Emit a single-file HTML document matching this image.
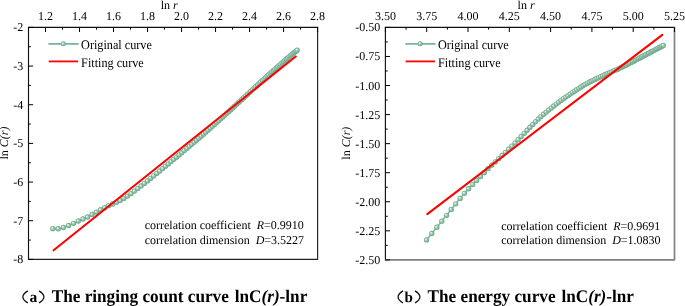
<!DOCTYPE html>
<html><head><meta charset="utf-8"><style>
html,body{margin:0;padding:0;background:#fff;}
body{width:685px;height:306px;overflow:hidden;position:relative;}
svg{position:absolute;left:0;top:0;will-change:transform;}
text{font-family:"Liberation Serif", serif;fill:#000;text-rendering:geometricPrecision;}
.tl{font-size:12px;}
.lg{font-size:12.2px;}
.ct{font-size:12px;}
.cap{font-size:17.2px;font-weight:bold;}
.capl{font-size:15.6px;font-weight:bold;}
</style></head><body>
<svg width="685" height="306" viewBox="0 0 685 306">
<defs><radialGradient id="gb" cx="0.5" cy="0.5" r="0.5" fx="0.33" fy="0.36"><stop offset="0" stop-color="#ffffff"/><stop offset="0.22" stop-color="#d2e8db"/><stop offset="0.55" stop-color="#8fc1a7"/><stop offset="1" stop-color="#6aa688"/></radialGradient></defs>
<line x1="27.95" y1="27.4" x2="318.20000000000005" y2="27.4" stroke="#111" stroke-width="1.15"/>
<line x1="28.5" y1="27.4" x2="28.5" y2="260.0" stroke="#111" stroke-width="1.15"/>
<line x1="317.6" y1="27.4" x2="317.6" y2="259.4" stroke="#222" stroke-width="1.15"/>
<line x1="28.5" y1="259.4" x2="318.1" y2="259.4" stroke="#222" stroke-width="1.15"/>
<line x1="45.51" y1="27.4" x2="45.51" y2="32.0" stroke="#000" stroke-width="1"/>
<line x1="79.52" y1="27.4" x2="79.52" y2="32.0" stroke="#000" stroke-width="1"/>
<line x1="113.53" y1="27.4" x2="113.53" y2="32.0" stroke="#000" stroke-width="1"/>
<line x1="147.54" y1="27.4" x2="147.54" y2="32.0" stroke="#000" stroke-width="1"/>
<line x1="181.55" y1="27.4" x2="181.55" y2="32.0" stroke="#000" stroke-width="1"/>
<line x1="215.56" y1="27.4" x2="215.56" y2="32.0" stroke="#000" stroke-width="1"/>
<line x1="249.58" y1="27.4" x2="249.58" y2="32.0" stroke="#000" stroke-width="1"/>
<line x1="283.59" y1="27.4" x2="283.59" y2="32.0" stroke="#000" stroke-width="1"/>
<line x1="317.60" y1="27.4" x2="317.60" y2="32.0" stroke="#000" stroke-width="1"/>
<line x1="28.50" y1="27.4" x2="28.50" y2="29.7" stroke="#000" stroke-width="1"/>
<line x1="62.51" y1="27.4" x2="62.51" y2="29.7" stroke="#000" stroke-width="1"/>
<line x1="96.52" y1="27.4" x2="96.52" y2="29.7" stroke="#000" stroke-width="1"/>
<line x1="130.54" y1="27.4" x2="130.54" y2="29.7" stroke="#000" stroke-width="1"/>
<line x1="164.55" y1="27.4" x2="164.55" y2="29.7" stroke="#000" stroke-width="1"/>
<line x1="198.56" y1="27.4" x2="198.56" y2="29.7" stroke="#000" stroke-width="1"/>
<line x1="232.57" y1="27.4" x2="232.57" y2="29.7" stroke="#000" stroke-width="1"/>
<line x1="266.58" y1="27.4" x2="266.58" y2="29.7" stroke="#000" stroke-width="1"/>
<line x1="300.59" y1="27.4" x2="300.59" y2="29.7" stroke="#000" stroke-width="1"/>
<text x="45.51" y="19.6" text-anchor="middle" class="tl">1.2</text>
<text x="79.52" y="19.6" text-anchor="middle" class="tl">1.4</text>
<text x="113.53" y="19.6" text-anchor="middle" class="tl">1.6</text>
<text x="147.54" y="19.6" text-anchor="middle" class="tl">1.8</text>
<text x="181.55" y="19.6" text-anchor="middle" class="tl">2.0</text>
<text x="215.56" y="19.6" text-anchor="middle" class="tl">2.2</text>
<text x="249.58" y="19.6" text-anchor="middle" class="tl">2.4</text>
<text x="283.59" y="19.6" text-anchor="middle" class="tl">2.6</text>
<text x="317.60" y="19.6" text-anchor="middle" class="tl">2.8</text>
<line x1="28.5" y1="27.40" x2="33.1" y2="27.40" stroke="#000" stroke-width="1"/>
<line x1="28.5" y1="66.07" x2="33.1" y2="66.07" stroke="#000" stroke-width="1"/>
<line x1="28.5" y1="104.73" x2="33.1" y2="104.73" stroke="#000" stroke-width="1"/>
<line x1="28.5" y1="143.40" x2="33.1" y2="143.40" stroke="#000" stroke-width="1"/>
<line x1="28.5" y1="182.07" x2="33.1" y2="182.07" stroke="#000" stroke-width="1"/>
<line x1="28.5" y1="220.73" x2="33.1" y2="220.73" stroke="#000" stroke-width="1"/>
<line x1="28.5" y1="259.40" x2="33.1" y2="259.40" stroke="#000" stroke-width="1"/>
<line x1="28.5" y1="46.73" x2="30.8" y2="46.73" stroke="#000" stroke-width="1"/>
<line x1="28.5" y1="85.40" x2="30.8" y2="85.40" stroke="#000" stroke-width="1"/>
<line x1="28.5" y1="124.07" x2="30.8" y2="124.07" stroke="#000" stroke-width="1"/>
<line x1="28.5" y1="162.73" x2="30.8" y2="162.73" stroke="#000" stroke-width="1"/>
<line x1="28.5" y1="201.40" x2="30.8" y2="201.40" stroke="#000" stroke-width="1"/>
<line x1="28.5" y1="240.07" x2="30.8" y2="240.07" stroke="#000" stroke-width="1"/>
<text x="23.30" y="31.40" text-anchor="end" class="tl">-2</text>
<text x="23.30" y="70.07" text-anchor="end" class="tl">-3</text>
<text x="23.30" y="108.73" text-anchor="end" class="tl">-4</text>
<text x="23.30" y="147.40" text-anchor="end" class="tl">-5</text>
<text x="23.30" y="186.07" text-anchor="end" class="tl">-6</text>
<text x="23.30" y="224.73" text-anchor="end" class="tl">-7</text>
<text x="23.30" y="263.40" text-anchor="end" class="tl">-8</text>
<path d="M52.82,228.67 L58.24,228.77 L63.50,227.50 L68.60,225.52 L73.55,223.29 L78.35,221.01 L83.03,218.98 L87.58,216.98 L92.02,214.51 L96.34,212.15 L100.55,209.76 L104.66,207.69 L108.68,205.64 L112.60,203.98 L116.44,202.35 L120.18,200.47 L123.85,198.38 L127.44,196.10 L130.96,193.64 L134.41,191.10 L137.78,188.55 L141.09,185.97 L144.34,183.41 L147.53,180.89 L150.66,178.39 L153.73,175.91 L156.75,173.44 L159.71,171.01 L162.63,168.60 L165.49,166.24 L168.31,163.92 L171.08,161.62 L173.81,159.36 L176.49,157.13 L179.13,154.92 L181.74,152.74 L184.30,150.59 L186.82,148.46 L189.31,146.35 L191.76,144.26 L194.18,142.20 L196.56,140.16 L198.91,138.14 L201.23,136.13 L203.52,134.14 L205.77,132.17 L208.00,130.22 L210.20,128.28 L212.37,126.37 L214.51,124.46 L216.63,122.57 L218.72,120.68 L220.78,118.80 L222.82,116.94 L224.84,115.09 L226.83,113.26 L228.80,111.45 L230.75,109.67 L232.67,107.91 L234.58,106.17 L236.46,104.45 L238.32,102.74 L240.16,101.05 L241.98,99.38 L243.79,97.72 L245.57,96.07 L247.33,94.44 L249.08,92.82 L250.81,91.21 L252.52,89.62 L254.22,88.05 L255.89,86.50 L257.55,84.97 L259.20,83.46 L260.83,81.97 L262.44,80.50 L264.04,79.04 L265.63,77.60 L267.20,76.17 L268.75,74.76 L270.29,73.36 L271.82,71.98 L273.33,70.62 L274.83,69.28 L276.32,67.95 L277.79,66.65 L279.26,65.36 L280.70,64.10 L282.14,62.85 L283.57,61.62 L284.98,60.40 L286.38,59.20 L287.77,58.01 L289.15,56.84 L290.52,55.68 L291.87,54.54 L293.22,53.42 L294.55,52.31 L295.88,51.22 L297.19,50.14" fill="none" stroke="#7fb59a" stroke-width="1.5"/>
<circle cx="52.82" cy="228.67" r="2.65" fill="url(#gb)"/>
<circle cx="58.24" cy="228.77" r="2.65" fill="url(#gb)"/>
<circle cx="63.50" cy="227.50" r="2.65" fill="url(#gb)"/>
<circle cx="68.60" cy="225.52" r="2.65" fill="url(#gb)"/>
<circle cx="73.55" cy="223.29" r="2.65" fill="url(#gb)"/>
<circle cx="78.35" cy="221.01" r="2.65" fill="url(#gb)"/>
<circle cx="83.03" cy="218.98" r="2.65" fill="url(#gb)"/>
<circle cx="87.58" cy="216.98" r="2.65" fill="url(#gb)"/>
<circle cx="92.02" cy="214.51" r="2.65" fill="url(#gb)"/>
<circle cx="96.34" cy="212.15" r="2.65" fill="url(#gb)"/>
<circle cx="100.55" cy="209.76" r="2.65" fill="url(#gb)"/>
<circle cx="104.66" cy="207.69" r="2.65" fill="url(#gb)"/>
<circle cx="108.68" cy="205.64" r="2.65" fill="url(#gb)"/>
<circle cx="112.60" cy="203.98" r="2.65" fill="url(#gb)"/>
<circle cx="116.44" cy="202.35" r="2.65" fill="url(#gb)"/>
<circle cx="120.18" cy="200.47" r="2.65" fill="url(#gb)"/>
<circle cx="123.85" cy="198.38" r="2.65" fill="url(#gb)"/>
<circle cx="127.44" cy="196.10" r="2.65" fill="url(#gb)"/>
<circle cx="130.96" cy="193.64" r="2.65" fill="url(#gb)"/>
<circle cx="134.41" cy="191.10" r="2.65" fill="url(#gb)"/>
<circle cx="137.78" cy="188.55" r="2.65" fill="url(#gb)"/>
<circle cx="141.09" cy="185.97" r="2.65" fill="url(#gb)"/>
<circle cx="144.34" cy="183.41" r="2.65" fill="url(#gb)"/>
<circle cx="147.53" cy="180.89" r="2.65" fill="url(#gb)"/>
<circle cx="150.66" cy="178.39" r="2.65" fill="url(#gb)"/>
<circle cx="153.73" cy="175.91" r="2.65" fill="url(#gb)"/>
<circle cx="156.75" cy="173.44" r="2.65" fill="url(#gb)"/>
<circle cx="159.71" cy="171.01" r="2.65" fill="url(#gb)"/>
<circle cx="162.63" cy="168.60" r="2.65" fill="url(#gb)"/>
<circle cx="165.49" cy="166.24" r="2.65" fill="url(#gb)"/>
<circle cx="168.31" cy="163.92" r="2.65" fill="url(#gb)"/>
<circle cx="171.08" cy="161.62" r="2.65" fill="url(#gb)"/>
<circle cx="173.81" cy="159.36" r="2.65" fill="url(#gb)"/>
<circle cx="176.49" cy="157.13" r="2.65" fill="url(#gb)"/>
<circle cx="179.13" cy="154.92" r="2.65" fill="url(#gb)"/>
<circle cx="181.74" cy="152.74" r="2.65" fill="url(#gb)"/>
<circle cx="184.30" cy="150.59" r="2.65" fill="url(#gb)"/>
<circle cx="186.82" cy="148.46" r="2.65" fill="url(#gb)"/>
<circle cx="189.31" cy="146.35" r="2.65" fill="url(#gb)"/>
<circle cx="191.76" cy="144.26" r="2.65" fill="url(#gb)"/>
<circle cx="194.18" cy="142.20" r="2.65" fill="url(#gb)"/>
<circle cx="196.56" cy="140.16" r="2.65" fill="url(#gb)"/>
<circle cx="198.91" cy="138.14" r="2.65" fill="url(#gb)"/>
<circle cx="201.23" cy="136.13" r="2.65" fill="url(#gb)"/>
<circle cx="203.52" cy="134.14" r="2.65" fill="url(#gb)"/>
<circle cx="205.77" cy="132.17" r="2.65" fill="url(#gb)"/>
<circle cx="208.00" cy="130.22" r="2.65" fill="url(#gb)"/>
<circle cx="210.20" cy="128.28" r="2.65" fill="url(#gb)"/>
<circle cx="212.37" cy="126.37" r="2.65" fill="url(#gb)"/>
<circle cx="214.51" cy="124.46" r="2.65" fill="url(#gb)"/>
<circle cx="216.63" cy="122.57" r="2.65" fill="url(#gb)"/>
<circle cx="218.72" cy="120.68" r="2.65" fill="url(#gb)"/>
<circle cx="220.78" cy="118.80" r="2.65" fill="url(#gb)"/>
<circle cx="222.82" cy="116.94" r="2.65" fill="url(#gb)"/>
<circle cx="224.84" cy="115.09" r="2.65" fill="url(#gb)"/>
<circle cx="226.83" cy="113.26" r="2.65" fill="url(#gb)"/>
<circle cx="228.80" cy="111.45" r="2.65" fill="url(#gb)"/>
<circle cx="230.75" cy="109.67" r="2.65" fill="url(#gb)"/>
<circle cx="232.67" cy="107.91" r="2.65" fill="url(#gb)"/>
<circle cx="234.58" cy="106.17" r="2.65" fill="url(#gb)"/>
<circle cx="236.46" cy="104.45" r="2.65" fill="url(#gb)"/>
<circle cx="238.32" cy="102.74" r="2.65" fill="url(#gb)"/>
<circle cx="240.16" cy="101.05" r="2.65" fill="url(#gb)"/>
<circle cx="241.98" cy="99.38" r="2.65" fill="url(#gb)"/>
<circle cx="243.79" cy="97.72" r="2.65" fill="url(#gb)"/>
<circle cx="245.57" cy="96.07" r="2.65" fill="url(#gb)"/>
<circle cx="247.33" cy="94.44" r="2.65" fill="url(#gb)"/>
<circle cx="249.08" cy="92.82" r="2.65" fill="url(#gb)"/>
<circle cx="250.81" cy="91.21" r="2.65" fill="url(#gb)"/>
<circle cx="252.52" cy="89.62" r="2.65" fill="url(#gb)"/>
<circle cx="254.22" cy="88.05" r="2.65" fill="url(#gb)"/>
<circle cx="255.89" cy="86.50" r="2.65" fill="url(#gb)"/>
<circle cx="257.55" cy="84.97" r="2.65" fill="url(#gb)"/>
<circle cx="259.20" cy="83.46" r="2.65" fill="url(#gb)"/>
<circle cx="260.83" cy="81.97" r="2.65" fill="url(#gb)"/>
<circle cx="262.44" cy="80.50" r="2.65" fill="url(#gb)"/>
<circle cx="264.04" cy="79.04" r="2.65" fill="url(#gb)"/>
<circle cx="265.63" cy="77.60" r="2.65" fill="url(#gb)"/>
<circle cx="267.20" cy="76.17" r="2.65" fill="url(#gb)"/>
<circle cx="268.75" cy="74.76" r="2.65" fill="url(#gb)"/>
<circle cx="270.29" cy="73.36" r="2.65" fill="url(#gb)"/>
<circle cx="271.82" cy="71.98" r="2.65" fill="url(#gb)"/>
<circle cx="273.33" cy="70.62" r="2.65" fill="url(#gb)"/>
<circle cx="274.83" cy="69.28" r="2.65" fill="url(#gb)"/>
<circle cx="276.32" cy="67.95" r="2.65" fill="url(#gb)"/>
<circle cx="277.79" cy="66.65" r="2.65" fill="url(#gb)"/>
<circle cx="279.26" cy="65.36" r="2.65" fill="url(#gb)"/>
<circle cx="280.70" cy="64.10" r="2.65" fill="url(#gb)"/>
<circle cx="282.14" cy="62.85" r="2.65" fill="url(#gb)"/>
<circle cx="283.57" cy="61.62" r="2.65" fill="url(#gb)"/>
<circle cx="284.98" cy="60.40" r="2.65" fill="url(#gb)"/>
<circle cx="286.38" cy="59.20" r="2.65" fill="url(#gb)"/>
<circle cx="287.77" cy="58.01" r="2.65" fill="url(#gb)"/>
<circle cx="289.15" cy="56.84" r="2.65" fill="url(#gb)"/>
<circle cx="290.52" cy="55.68" r="2.65" fill="url(#gb)"/>
<circle cx="291.87" cy="54.54" r="2.65" fill="url(#gb)"/>
<circle cx="293.22" cy="53.42" r="2.65" fill="url(#gb)"/>
<circle cx="294.55" cy="52.31" r="2.65" fill="url(#gb)"/>
<circle cx="295.88" cy="51.22" r="2.65" fill="url(#gb)"/>
<circle cx="297.19" cy="50.14" r="2.65" fill="url(#gb)"/>
<line x1="53.6" y1="250.3" x2="295.7" y2="56.5" stroke="#ff0000" stroke-width="2.1" stroke-linecap="round"/>
<line x1="48.40" y1="43.9" x2="78.70" y2="43.9" stroke="#7db59a" stroke-width="1.8"/>
<circle cx="63.30" cy="43.8" r="2.5" fill="url(#gb)"/>
<text transform="translate(81.10,49.2) scale(1,1.07)" class="lg">Original curve</text>
<line x1="48.70" y1="61.4" x2="78.10" y2="61.4" stroke="#ff0000" stroke-width="1.8"/>
<text transform="translate(81.10,67.2) scale(1,1.07)" class="lg">Fitting curve</text>
<text x="169.2" y="8.7" text-anchor="middle" class="tl">ln <tspan font-style="italic">r</tspan></text>
<text transform="translate(8.4,143.0) rotate(-90)" text-anchor="middle" class="tl">ln <tspan font-style="italic">C(r)</tspan></text>
<text x="144.7" y="229.0" class="ct">correlation coefficient&#160;&#160;<tspan font-style="italic">R</tspan>=0.9910</text>
<text x="144.7" y="243.9" class="ct">correlation dimension&#160;&#160;<tspan font-style="italic">D</tspan>=3.5227</text>
<path d="M27.80,290.9 Q18.00,296.9 27.80,302.9" fill="none" stroke="#111" stroke-width="1.25"/>
<text x="29.50" y="302.1" class="capl">a</text>
<path d="M39.00,290.9 Q48.80,296.9 39.00,302.9" fill="none" stroke="#111" stroke-width="1.25"/>
<text transform="translate(51.70,302.4) scale(1,1.035)" class="cap">The ringing count curve <tspan dx="1.6">lnC</tspan><tspan font-style="italic">(r)</tspan>-lnr</text>
<line x1="384.84999999999997" y1="27.4" x2="675.1" y2="27.4" stroke="#111" stroke-width="1.15"/>
<line x1="385.4" y1="27.4" x2="385.4" y2="260.5" stroke="#111" stroke-width="1.15"/>
<line x1="674.5" y1="27.4" x2="674.5" y2="259.9" stroke="#808080" stroke-width="1.7"/>
<line x1="385.4" y1="259.9" x2="675.0" y2="259.9" stroke="#808080" stroke-width="1.7"/>
<line x1="385.40" y1="27.4" x2="385.40" y2="32.0" stroke="#000" stroke-width="1"/>
<line x1="426.70" y1="27.4" x2="426.70" y2="32.0" stroke="#000" stroke-width="1"/>
<line x1="468.00" y1="27.4" x2="468.00" y2="32.0" stroke="#000" stroke-width="1"/>
<line x1="509.30" y1="27.4" x2="509.30" y2="32.0" stroke="#000" stroke-width="1"/>
<line x1="550.60" y1="27.4" x2="550.60" y2="32.0" stroke="#000" stroke-width="1"/>
<line x1="591.90" y1="27.4" x2="591.90" y2="32.0" stroke="#000" stroke-width="1"/>
<line x1="633.20" y1="27.4" x2="633.20" y2="32.0" stroke="#000" stroke-width="1"/>
<line x1="674.50" y1="27.4" x2="674.50" y2="32.0" stroke="#000" stroke-width="1"/>
<line x1="406.05" y1="27.4" x2="406.05" y2="29.7" stroke="#000" stroke-width="1"/>
<line x1="447.35" y1="27.4" x2="447.35" y2="29.7" stroke="#000" stroke-width="1"/>
<line x1="488.65" y1="27.4" x2="488.65" y2="29.7" stroke="#000" stroke-width="1"/>
<line x1="529.95" y1="27.4" x2="529.95" y2="29.7" stroke="#000" stroke-width="1"/>
<line x1="571.25" y1="27.4" x2="571.25" y2="29.7" stroke="#000" stroke-width="1"/>
<line x1="612.55" y1="27.4" x2="612.55" y2="29.7" stroke="#000" stroke-width="1"/>
<line x1="653.85" y1="27.4" x2="653.85" y2="29.7" stroke="#000" stroke-width="1"/>
<text x="385.40" y="19.6" text-anchor="middle" class="tl">3.50</text>
<text x="426.70" y="19.6" text-anchor="middle" class="tl">3.75</text>
<text x="468.00" y="19.6" text-anchor="middle" class="tl">4.00</text>
<text x="509.30" y="19.6" text-anchor="middle" class="tl">4.25</text>
<text x="550.60" y="19.6" text-anchor="middle" class="tl">4.50</text>
<text x="591.90" y="19.6" text-anchor="middle" class="tl">4.75</text>
<text x="633.20" y="19.6" text-anchor="middle" class="tl">5.00</text>
<text x="674.50" y="19.6" text-anchor="middle" class="tl">5.25</text>
<line x1="385.4" y1="27.40" x2="390.0" y2="27.40" stroke="#000" stroke-width="1"/>
<line x1="385.4" y1="56.46" x2="390.0" y2="56.46" stroke="#000" stroke-width="1"/>
<line x1="385.4" y1="85.52" x2="390.0" y2="85.52" stroke="#000" stroke-width="1"/>
<line x1="385.4" y1="114.59" x2="390.0" y2="114.59" stroke="#000" stroke-width="1"/>
<line x1="385.4" y1="143.65" x2="390.0" y2="143.65" stroke="#000" stroke-width="1"/>
<line x1="385.4" y1="172.71" x2="390.0" y2="172.71" stroke="#000" stroke-width="1"/>
<line x1="385.4" y1="201.77" x2="390.0" y2="201.77" stroke="#000" stroke-width="1"/>
<line x1="385.4" y1="230.84" x2="390.0" y2="230.84" stroke="#000" stroke-width="1"/>
<line x1="385.4" y1="259.90" x2="390.0" y2="259.90" stroke="#000" stroke-width="1"/>
<line x1="385.4" y1="41.93" x2="387.7" y2="41.93" stroke="#000" stroke-width="1"/>
<line x1="385.4" y1="70.99" x2="387.7" y2="70.99" stroke="#000" stroke-width="1"/>
<line x1="385.4" y1="100.06" x2="387.7" y2="100.06" stroke="#000" stroke-width="1"/>
<line x1="385.4" y1="129.12" x2="387.7" y2="129.12" stroke="#000" stroke-width="1"/>
<line x1="385.4" y1="158.18" x2="387.7" y2="158.18" stroke="#000" stroke-width="1"/>
<line x1="385.4" y1="187.24" x2="387.7" y2="187.24" stroke="#000" stroke-width="1"/>
<line x1="385.4" y1="216.31" x2="387.7" y2="216.31" stroke="#000" stroke-width="1"/>
<line x1="385.4" y1="245.37" x2="387.7" y2="245.37" stroke="#000" stroke-width="1"/>
<text x="380.20" y="31.40" text-anchor="end" class="tl">-0.50</text>
<text x="380.20" y="60.46" text-anchor="end" class="tl">-0.75</text>
<text x="380.20" y="89.52" text-anchor="end" class="tl">-1.00</text>
<text x="380.20" y="118.59" text-anchor="end" class="tl">-1.25</text>
<text x="380.20" y="147.65" text-anchor="end" class="tl">-1.50</text>
<text x="380.20" y="176.71" text-anchor="end" class="tl">-1.75</text>
<text x="380.20" y="205.77" text-anchor="end" class="tl">-2.00</text>
<text x="380.20" y="234.84" text-anchor="end" class="tl">-2.25</text>
<text x="380.20" y="263.90" text-anchor="end" class="tl">-2.50</text>
<path d="M426.53,239.91 L431.78,233.50 L436.86,227.27 L441.78,221.21 L446.57,215.30 L451.22,209.47 L455.74,203.81 L460.15,198.39 L464.44,193.31 L468.62,188.77 L472.69,184.53 L476.67,180.44 L480.56,176.48 L484.35,172.51 L488.06,168.72 L491.69,165.22 L495.24,161.89 L498.72,158.64 L502.13,155.44 L505.46,152.32 L508.73,149.23 L511.94,146.08 L515.08,142.88 L518.17,139.67 L521.20,136.52 L524.18,133.36 L527.10,130.25 L529.97,127.27 L532.79,124.40 L535.57,121.59 L538.30,118.96 L540.98,116.55 L543.63,114.26 L546.23,112.06 L548.79,109.96 L551.31,107.94 L553.79,105.98 L556.24,104.06 L558.65,102.19 L561.03,100.38 L563.37,98.70 L565.68,97.12 L567.96,95.60 L570.20,94.09 L572.42,92.59 L574.61,91.13 L576.77,89.71 L578.90,88.33 L581.00,86.99 L583.08,85.70 L585.13,84.47 L587.16,83.33 L589.16,82.27 L591.14,81.27 L593.09,80.32 L595.02,79.39 L596.93,78.48 L598.82,77.56 L600.69,76.68 L602.53,75.84 L604.36,75.02 L606.16,74.21 L607.95,73.42 L609.71,72.63 L611.46,71.86 L613.19,71.11 L614.90,70.37 L616.60,69.63 L618.27,68.88 L619.93,68.11 L621.58,67.31 L623.20,66.51 L624.81,65.70 L626.41,64.89 L627.99,64.08 L629.56,63.27 L631.11,62.47 L632.64,61.68 L634.17,60.88 L635.67,60.09 L637.17,59.31 L638.65,58.53 L640.12,57.75 L641.57,56.99 L643.02,56.22 L644.45,55.47 L645.86,54.72 L647.27,53.97 L648.66,53.23 L650.05,52.50 L651.42,51.77 L652.78,51.05 L654.12,50.33 L655.46,49.62 L656.79,48.91 L658.10,48.21 L659.41,47.51 L660.71,46.82 L661.99,46.14 L663.27,45.45" fill="none" stroke="#7fb59a" stroke-width="1.5"/>
<circle cx="426.53" cy="239.91" r="2.65" fill="url(#gb)"/>
<circle cx="431.78" cy="233.50" r="2.65" fill="url(#gb)"/>
<circle cx="436.86" cy="227.27" r="2.65" fill="url(#gb)"/>
<circle cx="441.78" cy="221.21" r="2.65" fill="url(#gb)"/>
<circle cx="446.57" cy="215.30" r="2.65" fill="url(#gb)"/>
<circle cx="451.22" cy="209.47" r="2.65" fill="url(#gb)"/>
<circle cx="455.74" cy="203.81" r="2.65" fill="url(#gb)"/>
<circle cx="460.15" cy="198.39" r="2.65" fill="url(#gb)"/>
<circle cx="464.44" cy="193.31" r="2.65" fill="url(#gb)"/>
<circle cx="468.62" cy="188.77" r="2.65" fill="url(#gb)"/>
<circle cx="472.69" cy="184.53" r="2.65" fill="url(#gb)"/>
<circle cx="476.67" cy="180.44" r="2.65" fill="url(#gb)"/>
<circle cx="480.56" cy="176.48" r="2.65" fill="url(#gb)"/>
<circle cx="484.35" cy="172.51" r="2.65" fill="url(#gb)"/>
<circle cx="488.06" cy="168.72" r="2.65" fill="url(#gb)"/>
<circle cx="491.69" cy="165.22" r="2.65" fill="url(#gb)"/>
<circle cx="495.24" cy="161.89" r="2.65" fill="url(#gb)"/>
<circle cx="498.72" cy="158.64" r="2.65" fill="url(#gb)"/>
<circle cx="502.13" cy="155.44" r="2.65" fill="url(#gb)"/>
<circle cx="505.46" cy="152.32" r="2.65" fill="url(#gb)"/>
<circle cx="508.73" cy="149.23" r="2.65" fill="url(#gb)"/>
<circle cx="511.94" cy="146.08" r="2.65" fill="url(#gb)"/>
<circle cx="515.08" cy="142.88" r="2.65" fill="url(#gb)"/>
<circle cx="518.17" cy="139.67" r="2.65" fill="url(#gb)"/>
<circle cx="521.20" cy="136.52" r="2.65" fill="url(#gb)"/>
<circle cx="524.18" cy="133.36" r="2.65" fill="url(#gb)"/>
<circle cx="527.10" cy="130.25" r="2.65" fill="url(#gb)"/>
<circle cx="529.97" cy="127.27" r="2.65" fill="url(#gb)"/>
<circle cx="532.79" cy="124.40" r="2.65" fill="url(#gb)"/>
<circle cx="535.57" cy="121.59" r="2.65" fill="url(#gb)"/>
<circle cx="538.30" cy="118.96" r="2.65" fill="url(#gb)"/>
<circle cx="540.98" cy="116.55" r="2.65" fill="url(#gb)"/>
<circle cx="543.63" cy="114.26" r="2.65" fill="url(#gb)"/>
<circle cx="546.23" cy="112.06" r="2.65" fill="url(#gb)"/>
<circle cx="548.79" cy="109.96" r="2.65" fill="url(#gb)"/>
<circle cx="551.31" cy="107.94" r="2.65" fill="url(#gb)"/>
<circle cx="553.79" cy="105.98" r="2.65" fill="url(#gb)"/>
<circle cx="556.24" cy="104.06" r="2.65" fill="url(#gb)"/>
<circle cx="558.65" cy="102.19" r="2.65" fill="url(#gb)"/>
<circle cx="561.03" cy="100.38" r="2.65" fill="url(#gb)"/>
<circle cx="563.37" cy="98.70" r="2.65" fill="url(#gb)"/>
<circle cx="565.68" cy="97.12" r="2.65" fill="url(#gb)"/>
<circle cx="567.96" cy="95.60" r="2.65" fill="url(#gb)"/>
<circle cx="570.20" cy="94.09" r="2.65" fill="url(#gb)"/>
<circle cx="572.42" cy="92.59" r="2.65" fill="url(#gb)"/>
<circle cx="574.61" cy="91.13" r="2.65" fill="url(#gb)"/>
<circle cx="576.77" cy="89.71" r="2.65" fill="url(#gb)"/>
<circle cx="578.90" cy="88.33" r="2.65" fill="url(#gb)"/>
<circle cx="581.00" cy="86.99" r="2.65" fill="url(#gb)"/>
<circle cx="583.08" cy="85.70" r="2.65" fill="url(#gb)"/>
<circle cx="585.13" cy="84.47" r="2.65" fill="url(#gb)"/>
<circle cx="587.16" cy="83.33" r="2.65" fill="url(#gb)"/>
<circle cx="589.16" cy="82.27" r="2.65" fill="url(#gb)"/>
<circle cx="591.14" cy="81.27" r="2.65" fill="url(#gb)"/>
<circle cx="593.09" cy="80.32" r="2.65" fill="url(#gb)"/>
<circle cx="595.02" cy="79.39" r="2.65" fill="url(#gb)"/>
<circle cx="596.93" cy="78.48" r="2.65" fill="url(#gb)"/>
<circle cx="598.82" cy="77.56" r="2.65" fill="url(#gb)"/>
<circle cx="600.69" cy="76.68" r="2.65" fill="url(#gb)"/>
<circle cx="602.53" cy="75.84" r="2.65" fill="url(#gb)"/>
<circle cx="604.36" cy="75.02" r="2.65" fill="url(#gb)"/>
<circle cx="606.16" cy="74.21" r="2.65" fill="url(#gb)"/>
<circle cx="607.95" cy="73.42" r="2.65" fill="url(#gb)"/>
<circle cx="609.71" cy="72.63" r="2.65" fill="url(#gb)"/>
<circle cx="611.46" cy="71.86" r="2.65" fill="url(#gb)"/>
<circle cx="613.19" cy="71.11" r="2.65" fill="url(#gb)"/>
<circle cx="614.90" cy="70.37" r="2.65" fill="url(#gb)"/>
<circle cx="616.60" cy="69.63" r="2.65" fill="url(#gb)"/>
<circle cx="618.27" cy="68.88" r="2.65" fill="url(#gb)"/>
<circle cx="619.93" cy="68.11" r="2.65" fill="url(#gb)"/>
<circle cx="621.58" cy="67.31" r="2.65" fill="url(#gb)"/>
<circle cx="623.20" cy="66.51" r="2.65" fill="url(#gb)"/>
<circle cx="624.81" cy="65.70" r="2.65" fill="url(#gb)"/>
<circle cx="626.41" cy="64.89" r="2.65" fill="url(#gb)"/>
<circle cx="627.99" cy="64.08" r="2.65" fill="url(#gb)"/>
<circle cx="629.56" cy="63.27" r="2.65" fill="url(#gb)"/>
<circle cx="631.11" cy="62.47" r="2.65" fill="url(#gb)"/>
<circle cx="632.64" cy="61.68" r="2.65" fill="url(#gb)"/>
<circle cx="634.17" cy="60.88" r="2.65" fill="url(#gb)"/>
<circle cx="635.67" cy="60.09" r="2.65" fill="url(#gb)"/>
<circle cx="637.17" cy="59.31" r="2.65" fill="url(#gb)"/>
<circle cx="638.65" cy="58.53" r="2.65" fill="url(#gb)"/>
<circle cx="640.12" cy="57.75" r="2.65" fill="url(#gb)"/>
<circle cx="641.57" cy="56.99" r="2.65" fill="url(#gb)"/>
<circle cx="643.02" cy="56.22" r="2.65" fill="url(#gb)"/>
<circle cx="644.45" cy="55.47" r="2.65" fill="url(#gb)"/>
<circle cx="645.86" cy="54.72" r="2.65" fill="url(#gb)"/>
<circle cx="647.27" cy="53.97" r="2.65" fill="url(#gb)"/>
<circle cx="648.66" cy="53.23" r="2.65" fill="url(#gb)"/>
<circle cx="650.05" cy="52.50" r="2.65" fill="url(#gb)"/>
<circle cx="651.42" cy="51.77" r="2.65" fill="url(#gb)"/>
<circle cx="652.78" cy="51.05" r="2.65" fill="url(#gb)"/>
<circle cx="654.12" cy="50.33" r="2.65" fill="url(#gb)"/>
<circle cx="655.46" cy="49.62" r="2.65" fill="url(#gb)"/>
<circle cx="656.79" cy="48.91" r="2.65" fill="url(#gb)"/>
<circle cx="658.10" cy="48.21" r="2.65" fill="url(#gb)"/>
<circle cx="659.41" cy="47.51" r="2.65" fill="url(#gb)"/>
<circle cx="660.71" cy="46.82" r="2.65" fill="url(#gb)"/>
<circle cx="661.99" cy="46.14" r="2.65" fill="url(#gb)"/>
<circle cx="663.27" cy="45.45" r="2.65" fill="url(#gb)"/>
<line x1="427.3" y1="214.1" x2="662.3" y2="34.8" stroke="#ff0000" stroke-width="2.1" stroke-linecap="round"/>
<line x1="405.30" y1="43.9" x2="435.60" y2="43.9" stroke="#7db59a" stroke-width="1.8"/>
<circle cx="420.20" cy="43.8" r="2.5" fill="url(#gb)"/>
<text transform="translate(438.00,49.2) scale(1,1.07)" class="lg">Original curve</text>
<line x1="405.60" y1="61.4" x2="435.00" y2="61.4" stroke="#ff0000" stroke-width="1.8"/>
<text transform="translate(438.00,67.2) scale(1,1.07)" class="lg">Fitting curve</text>
<text x="526.1" y="8.7" text-anchor="middle" class="tl">ln <tspan font-style="italic">r</tspan></text>
<text transform="translate(350.2,143.2) rotate(-90)" text-anchor="middle" class="tl">ln <tspan font-style="italic">C(r)</tspan></text>
<text x="501.2" y="229.6" class="ct">correlation coefficient&#160;&#160;<tspan font-style="italic">R</tspan>=0.9691</text>
<text x="501.2" y="243.8" class="ct">correlation dimension&#160;&#160;<tspan font-style="italic">D</tspan>=1.0830</text>
<path d="M403.00,290.9 Q393.20,296.9 403.00,302.9" fill="none" stroke="#111" stroke-width="1.25"/>
<text x="404.60" y="302.1" class="capl" style="font-size:15.1px">b</text>
<path d="M415.00,290.9 Q424.80,296.9 415.00,302.9" fill="none" stroke="#111" stroke-width="1.25"/>
<text transform="translate(427.60,302.4) scale(1,1.035)" class="cap">The energy curve <tspan dx="1.6">lnC</tspan><tspan font-style="italic">(r)</tspan>-lnr</text>
</svg>
</body></html>
